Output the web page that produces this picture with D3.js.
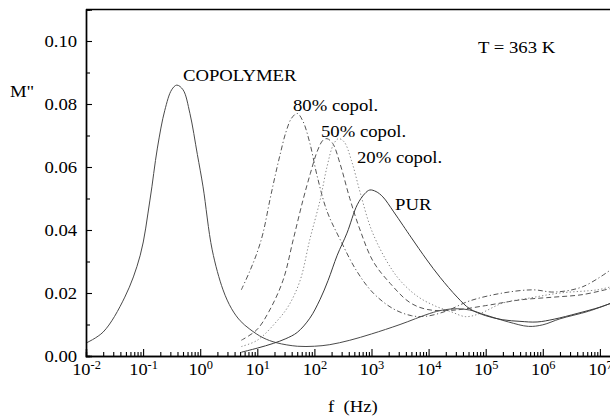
<!DOCTYPE html>
<html><head><meta charset="utf-8">
<script src="https://cdn.jsdelivr.net/npm/d3@7"></script>
<style>
body{margin:0;background:#fff}
text{font-family:"Liberation Serif","Times New Roman",serif;fill:#000}
</style>
</head><body><svg id="c" width="610" height="416"></svg>
<script>
// ---- data ----
const xTickExponents = [-2,-1,0,1,2,3,4,5,6,7];
const yTickValues = [0,0.02,0.04,0.06,0.08,0.10];
const yTickLabels = ["0.00","0.02","0.04","0.06","0.08","0.10"];
const yMinorValues = [0.01,0.03,0.05,0.07,0.09];
const seriesNames = ["COPOLYMER","80% copol.","50% copol.","20% copol.","PUR"];

const copolLogF = [-2,-1.7,-1.32,-1.05,-0.88,-0.75,-0.62,-0.5,-0.41,-0.3,-0.18,-0.05,0.05,0.21,0.40,0.55,0.70,0.87,1.10,1.34,1.70,2.00,2.27,2.62,3.00,3.50,4.02,4.25,4.50,4.72,5.00,5.40,5.75,6.00,6.30,6.80,7.20];
const copolM    = [0.0041,0.0076,0.0187,0.032,0.0495,0.066,0.078,0.0845,0.086,0.0845,0.077,0.064,0.0537,0.0337,0.021,0.0150,0.0112,0.0085,0.0058,0.0042,0.0031,0.0031,0.0036,0.0050,0.0070,0.0100,0.0135,0.0146,0.0150,0.0146,0.0130,0.0108,0.0094,0.0099,0.0118,0.0142,0.0168];

const c80LogF = [0.72,0.87,1.00,1.10,1.22,1.31,1.40,1.50,1.60,1.70,1.80,1.92,2.05,2.22,2.45,2.74,3.03,3.38,3.70,3.95,4.30,4.72,5.30,5.83,6.20,6.70,7.20];
const c80M    = [0.021,0.027,0.033,0.039,0.0495,0.057,0.064,0.071,0.0755,0.077,0.0745,0.0676,0.057,0.046,0.037,0.027,0.020,0.0150,0.0128,0.0126,0.0142,0.0175,0.0200,0.0210,0.0203,0.0220,0.0275];

const c50LogF = [0.72,0.99,1.20,1.45,1.63,1.80,1.93,2.05,2.15,2.22,2.32,2.45,2.62,2.80,3.03,3.33,3.67,3.97,4.40,5.00,5.60,6.20,6.70,7.20];
const c50M    = [0.005,0.0083,0.014,0.024,0.037,0.0495,0.058,0.065,0.0685,0.069,0.0675,0.061,0.050,0.040,0.030,0.023,0.017,0.0148,0.0145,0.016,0.0178,0.0187,0.0195,0.0215];

const c20LogF = [0.72,1.00,1.34,1.55,1.75,1.92,2.10,2.22,2.33,2.42,2.52,2.65,2.80,3.00,3.27,3.50,3.80,4.10,4.40,4.65,4.90,5.30,5.80,6.30,6.95,7.20];
const c20M    = [0.003,0.005,0.011,0.016,0.024,0.037,0.0495,0.060,0.067,0.069,0.068,0.062,0.052,0.040,0.030,0.024,0.019,0.016,0.014,0.0125,0.0135,0.0168,0.0185,0.020,0.021,0.022];

const purLogF = [0.72,1.00,1.28,1.50,1.70,1.92,2.10,2.24,2.40,2.57,2.75,2.88,2.97,3.08,3.20,3.38,3.55,3.70,3.97,4.20,4.50,4.72,5.00,5.30,5.60,5.90,6.20,6.60,7.00,7.20];
const purM    = [0.0012,0.0025,0.004,0.0055,0.0075,0.012,0.018,0.024,0.032,0.039,0.048,0.0515,0.0527,0.0522,0.0505,0.046,0.0415,0.0375,0.0305,0.025,0.0187,0.0150,0.0128,0.0115,0.0110,0.0108,0.0117,0.0135,0.0155,0.0168];

// ---- drawing ----
const svg = d3.select("#c");
const plotLeft = 86, plotBottom = 356, plotTop = 9.5;
const pxPerDecade = 57.1;
const xMaxExp = 7.25;
const x = d3.scaleLog().domain([1e-2, Math.pow(10, xMaxExp)]).range([plotLeft, plotLeft + (xMaxExp + 2) * pxPerDecade]);
const y = d3.scaleLinear().domain([0, 0.11]).range([plotBottom, plotTop]);
const plotRight = x.range()[1];

svg.append("defs").append("clipPath").attr("id","clip")
  .append("rect").attr("x",plotLeft).attr("y",plotTop).attr("width",plotRight-plotLeft).attr("height",plotBottom-plotTop);

const series = [
  {name:seriesNames[0], lf:copolLogF, m:copolM, color:"#4a4a4a", dash:null, w:1},
  {name:seriesNames[1], lf:c80LogF, m:c80M, color:"#555", dash:"5,2.5,1.2,2.5", w:1},
  {name:seriesNames[2], lf:c50LogF, m:c50M, color:"#555", dash:"5,3", w:1},
  {name:seriesNames[3], lf:c20LogF, m:c20M, color:"#888", dash:"1.3,2.2", w:1},
  {name:seriesNames[4], lf:purLogF, m:purM, color:"#3a3a3a", dash:null, w:1}
];

const line = d3.line().x(d => x(Math.pow(10, d[0]))).y(d => y(d[1])).curve(d3.curveCatmullRom.alpha(0.5));
const plot = svg.append("g").attr("clip-path","url(#clip)");
series.forEach(s => {
  plot.append("path")
    .attr("d", line(s.lf.map((v,i)=>[v, s.m[i]])))
    .attr("fill","none").attr("stroke",s.color).attr("stroke-width",s.w)
    .attr("stroke-dasharray", s.dash);
});

// frame top/right
svg.append("line").attr("x1",plotLeft).attr("x2",plotRight).attr("y1",plotTop).attr("y2",plotTop).attr("stroke","#000").attr("stroke-width",1.4);
svg.append("line").attr("x1",plotRight).attr("x2",plotRight).attr("y1",plotTop).attr("y2",plotBottom).attr("stroke","#000").attr("stroke-width",1.4);

// x axis
const majors = xTickExponents.map(e => Math.pow(10,e));
const minors = [];
xTickExponents.forEach(e => { for (let k=2;k<=9;k++){ const v=k*Math.pow(10,e); if (v < Math.pow(10,xMaxExp)) minors.push(v);} });

const gxMinor = svg.append("g").attr("transform",`translate(0,${plotBottom})`)
  .call(d3.axisBottom(x).tickValues(minors).tickSize(-4).tickFormat(""));
const gx = svg.append("g").attr("transform",`translate(0,${plotBottom})`)
  .call(d3.axisBottom(x).tickValues(majors).tickSize(-7).tickFormat(""));
[gxMinor,gx].forEach(g=>{ g.select(".domain").attr("stroke","#000").attr("stroke-width",1.4); g.selectAll(".tick line").attr("stroke","#000").attr("stroke-width",1.1); });
gx.selectAll(".tick").each(function(d,i){
  const t = d3.select(this).append("text").attr("y",19).attr("text-anchor","middle")
    .attr("font-size",17).attr("transform","scale(1.08,1)");
  t.append("tspan").text("10");
  t.append("tspan").attr("dy",-6).attr("font-size",11.5).text(String(xTickExponents[i]));
});

// y axis
const gyMinor = svg.append("g").attr("transform",`translate(${plotLeft},0)`)
  .call(d3.axisLeft(y).tickValues(yMinorValues).tickSize(-4).tickFormat(""));
const gy = svg.append("g").attr("transform",`translate(${plotLeft},0)`)
  .call(d3.axisLeft(y).tickValues(yTickValues).tickSize(-6).tickPadding(8).tickFormat((d,i)=>yTickLabels[i]));
[gyMinor,gy].forEach(g=>{ g.select(".domain").attr("stroke","#000").attr("stroke-width",1.4); g.selectAll(".tick line").attr("stroke","#000").attr("stroke-width",1.1); });
gy.selectAll(".tick text").attr("font-size",17).attr("fill","#000").attr("transform","scale(1.1,1)");

// annotations
function label(txt, px, py){
  svg.append("text").attr("transform",`translate(${px},${py}) scale(1.1,1)`)
    .attr("font-size",17).style("white-space","pre").text(txt);
}
label(seriesNames[0], 183, 81);
label(seriesNames[1], 293, 111);
label(seriesNames[2], 321, 137);
label(seriesNames[3], 357, 163);
label(seriesNames[4], 395, 210);
label("T = 363 K", 478, 53);
label('M"', 10, 97);
label("f  (Hz)", 328, 412);
</script>
</body></html>
